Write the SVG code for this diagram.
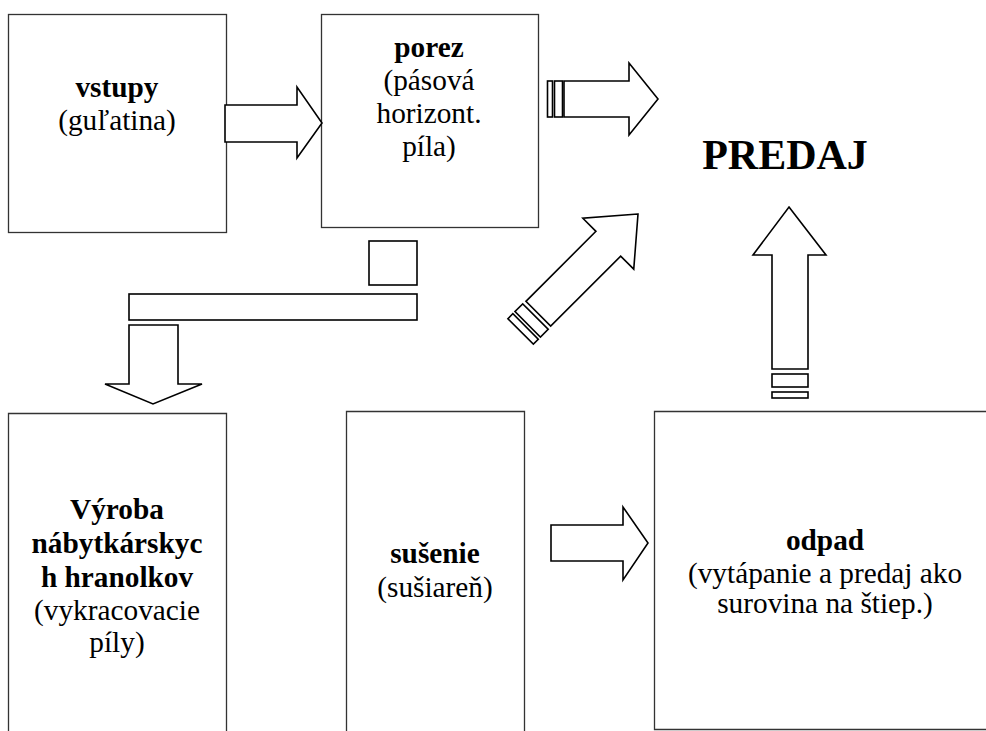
<svg xmlns="http://www.w3.org/2000/svg" width="986" height="731" viewBox="0 0 986 731">
<style>
.box{fill:#fff;stroke:#333;stroke-width:1.3}
.open{fill:none;stroke:#333;stroke-width:1.3}
.ar{fill:#fff;stroke:#000;stroke-width:1.6;stroke-linejoin:miter}
text{font-family:"Liberation Serif","Times New Roman",serif;font-size:29.3px;fill:#000;text-anchor:middle}
.b{font-weight:bold}
</style>
<rect width="986" height="731" fill="#fff"/>
<g id="vstupy">
<rect class="box" x="8.5" y="14.5" width="218" height="218"/>
<text x="117" y="97" class="b">vstupy</text>
<text x="117" y="130">(guľatina)</text>
</g>
<g id="porez">
<rect class="box" x="321.5" y="14.5" width="217" height="213"/>
<text x="429" y="57" class="b">porez</text>
<text x="429" y="90">(pásová</text>
<text x="429" y="123">horizont.</text>
<text x="429" y="156">píla)</text>
</g>
<g id="predaj">
<text x="785" y="169" class="b" style="font-size:42px">PREDAJ</text>
</g>
<g id="vyroba">
<path class="open" d="M8.5,735 V413.5 H226.5 V735"/>
<text x="117" y="519" class="b">Výroba</text>
<text x="117" y="553" class="b">nábytkárskyc</text>
<text x="117" y="587" class="b">h hranolkov</text>
<text x="117" y="620">(vykracovacie</text>
<text x="117" y="652">píly)</text>
</g>
<g id="susenie">
<path class="open" d="M346.5,735 V411.5 H524.5 V735"/>
<text x="435" y="563" class="b">sušenie</text>
<text x="435" y="597">(sušiareň)</text>
</g>
<g id="odpad">
<path class="open" d="M990,411.5 H654.5 V729.5 H990"/>
<text x="825" y="550" class="b">odpad</text>
<text x="825" y="583">(vytápanie a predaj ako</text>
<text x="825" y="613">surovina na štiep.)</text>
</g>
<g id="connectors">
<polygon class="ar" points="225,105 297,105 297,87 322,123 297,158 297,142 225,142"/>
<rect class="ar" x="547.5" y="81" width="5" height="36"/>
<rect class="ar" x="554.5" y="81" width="8" height="36"/>
<polygon class="ar" points="564,81 629,81 629,63 658,99 629,135 629,117 564,117"/>
<g transform="translate(638,214) rotate(-45)">
<polygon class="ar" points="0,0 -42,-36 -42,-17.5 -141,-17.5 -141,17.5 -42,17.5 -42,36"/>
<rect class="ar" x="-156" y="-18" width="11" height="36"/>
<rect class="ar" x="-166" y="-18" width="7" height="36"/>
</g>
<polygon class="ar" points="789,207 826,255 808,255 808,369 772,369 772,255 753,255"/>
<rect class="ar" x="772" y="374" width="36" height="13"/>
<rect class="ar" x="772" y="392" width="36" height="6"/>
<rect class="ar" x="369" y="241" width="48" height="44"/>
<rect class="ar" x="129" y="294" width="288" height="26"/>
<polygon class="ar" points="129,325 178,325 178,384 202,384 153,404 105,384 129,384"/>
<polygon class="ar" points="551,525 623,525 623,507 648,543 623,580 623,561 551,561"/>
</g>
</svg>
